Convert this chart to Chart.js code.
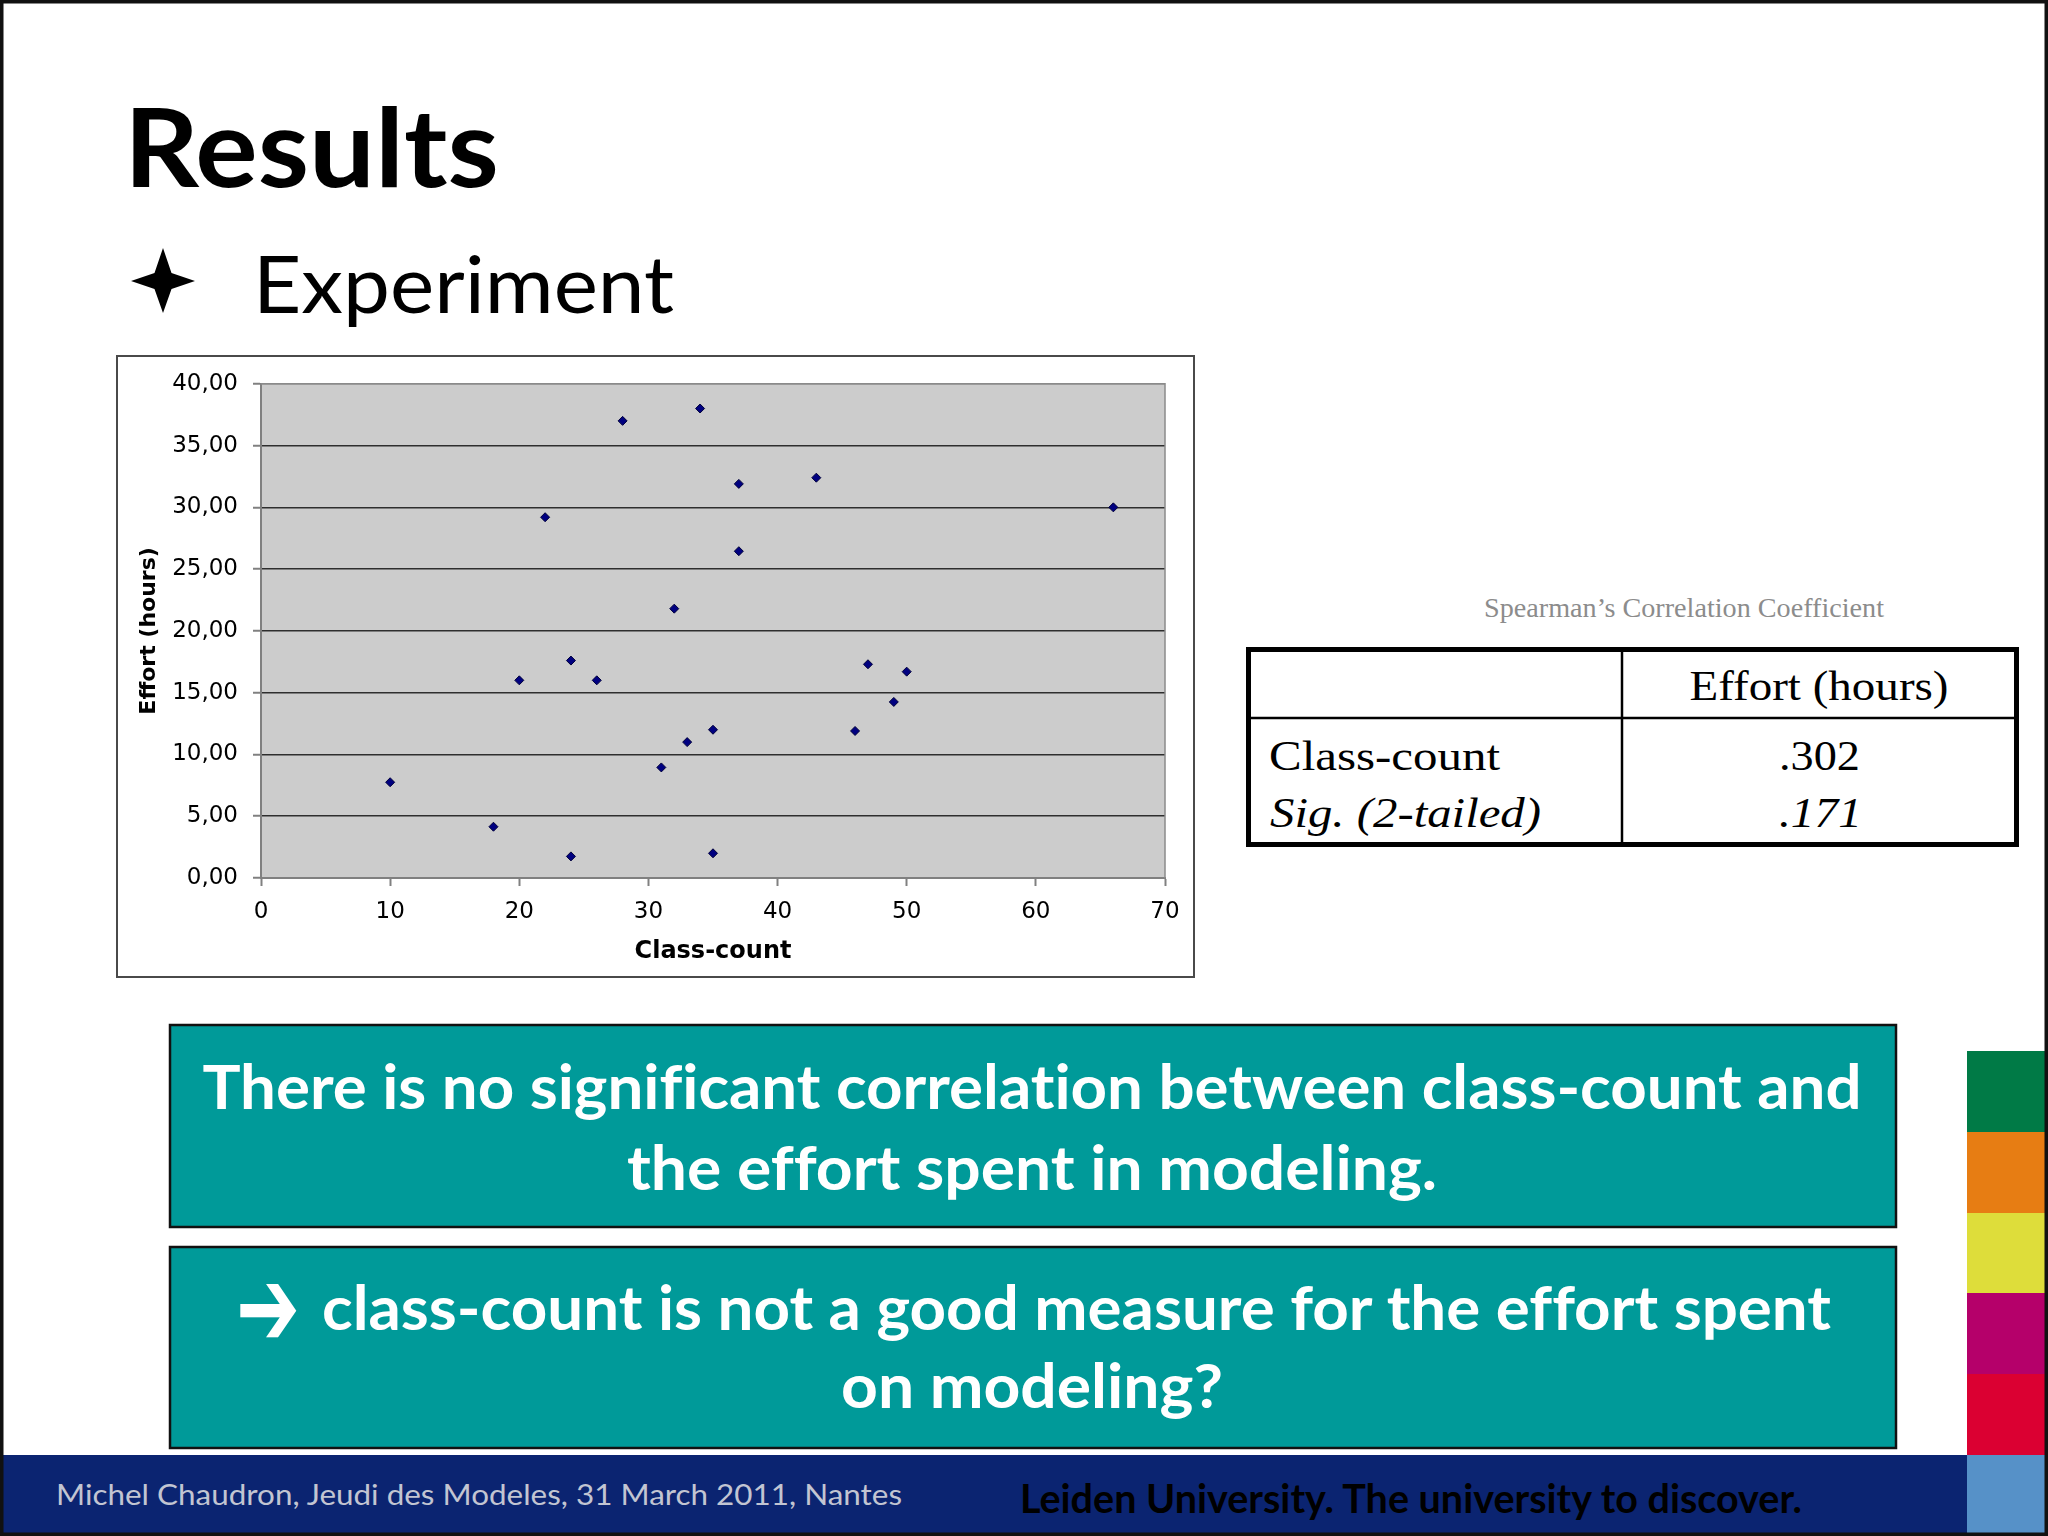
<!DOCTYPE html>
<html>
<head>
<meta charset="utf-8">
<script src="https://cdn.jsdelivr.net/npm/chart.js@4.4.1/dist/chart.umd.min.js"></script>
<style>
  html, body { margin: 0; padding: 0; background: #fff; width: 2048px; height: 1536px; overflow: hidden; }
  #slide { position: absolute; left: 0; top: 0; }
  #slide text { font-variant-ligatures: none; font-feature-settings: "liga" 0, "clig" 0; }
  #chartWrap { position: absolute; left: 116px; top: 355px; width: 1079px; height: 623px; }
  #c { display: block; }
</style>
</head>
<body>
<svg id="slide" width="2048" height="1536" viewBox="0 0 2048 1536" xmlns="http://www.w3.org/2000/svg">
  <rect x="0" y="0" width="2048" height="1536" fill="#ffffff"/>
  <!-- title -->
  <text x="124" y="187" font-family="Lato" font-weight="700" font-size="110" textLength="375" lengthAdjust="spacingAndGlyphs" fill="#000">Results</text>
  <path d="M163,248 L171.5,273 L195,281 L171.5,289 L163,313 L154.5,289 L131,281 L154.5,273 Z" fill="#000"/>
  <text x="253" y="313" font-family="Lato" font-weight="400" font-size="80" textLength="421" lengthAdjust="spacingAndGlyphs" fill="#000">Experiment</text>

  <!-- chart frame -->
  <rect x="117" y="356" width="1077" height="621" fill="#fff" stroke="#4a4a4a" stroke-width="2"/>

  <!-- table -->
  <text x="1484" y="617" font-family="Liberation Serif" font-size="27" textLength="400" lengthAdjust="spacingAndGlyphs" fill="#8c8c8c">Spearman’s Correlation Coefficient</text>
  <line x1="1246" y1="718" x2="2019" y2="718" stroke="#000" stroke-width="2.5"/>
  <line x1="1622" y1="647" x2="1622" y2="847" stroke="#000" stroke-width="2.5"/>
  <rect x="1248.5" y="649.5" width="768" height="195" fill="none" stroke="#000" stroke-width="5"/>
  <text x="1819" y="700" text-anchor="middle" font-family="Liberation Serif" font-size="42" textLength="259" lengthAdjust="spacingAndGlyphs" fill="#000">Effort (hours)</text>
  <text x="1269" y="770" font-family="Liberation Serif" font-size="42" textLength="231" lengthAdjust="spacingAndGlyphs" fill="#000">Class-count</text>
  <text x="1779" y="770" font-family="Liberation Serif" font-size="42" textLength="81" lengthAdjust="spacingAndGlyphs" fill="#000">.302</text>
  <text x="1270" y="827" font-family="Liberation Serif" font-style="italic" font-size="42" textLength="271" lengthAdjust="spacingAndGlyphs" fill="#000">Sig. (2-tailed)</text>
  <text x="1779" y="827" font-family="Liberation Serif" font-style="italic" font-size="42" textLength="83" lengthAdjust="spacingAndGlyphs" fill="#000">.171</text>

  <!-- teal boxes -->
  <rect x="170" y="1025" width="1726" height="202" fill="#009a99" stroke="#111" stroke-width="2.5"/>
  <text x="1032" y="1109" text-anchor="middle" font-family="Lato" font-weight="700" font-size="61" textLength="1659" lengthAdjust="spacingAndGlyphs" fill="#fff">There is no significant correlation between class-count and</text>
  <text x="1032" y="1190" text-anchor="middle" font-family="Lato" font-weight="700" font-size="61" textLength="810" lengthAdjust="spacingAndGlyphs" fill="#fff">the effort spent in modeling.</text>

  <rect x="170" y="1247" width="1726" height="201" fill="#009a99" stroke="#111" stroke-width="2.5"/>
  <text x="236" y="1346" font-family="DejaVu Sans" font-weight="700" font-size="112" textLength="64" lengthAdjust="spacingAndGlyphs" fill="#fff">➔</text>
  <text x="322" y="1330" font-family="Lato" font-weight="700" font-size="61" textLength="1509" lengthAdjust="spacingAndGlyphs" fill="#fff">class-count is not a good measure for the effort spent</text>
  <text x="1032" y="1408" text-anchor="middle" font-family="Lato" font-weight="700" font-size="61" textLength="382" lengthAdjust="spacingAndGlyphs" fill="#fff">on modeling?</text>

  <!-- footer -->
  <rect x="0" y="1455" width="1967" height="81" fill="#0b2471"/>
  <text x="56" y="1505" font-family="Lato" font-weight="400" font-size="29" textLength="846" lengthAdjust="spacingAndGlyphs" fill="#c2c5d2">Michel Chaudron, Jeudi des Modeles, 31 March 2011, Nantes</text>
  <text x="1020" y="1513" font-family="Lato" font-weight="700" font-size="40" textLength="782" lengthAdjust="spacingAndGlyphs" fill="#000">Leiden University. The university to discover.</text>

  <!-- colour strip -->
  <rect x="1967" y="1051" width="81" height="81" fill="#007a46"/>
  <rect x="1967" y="1132" width="81" height="81" fill="#e77d13"/>
  <rect x="1967" y="1213" width="81" height="80" fill="#dedd3a"/>
  <rect x="1967" y="1293" width="81" height="81" fill="#b5006a"/>
  <rect x="1967" y="1374" width="81" height="81" fill="#db0032"/>
  <rect x="1967" y="1455" width="81" height="81" fill="#5691c8"/>

  <!-- slide border -->
  <rect x="1.75" y="1.75" width="2044.5" height="1532.5" fill="none" stroke="#111" stroke-width="3.5"/>
</svg>

<div id="chartWrap"><canvas id="c" width="1079" height="623"></canvas></div>

<script>
// ---- data ----
const classCount  = [10, 18, 20, 22, 24, 24, 26, 28, 31, 32, 33, 34, 35, 35, 37, 37, 43, 46, 47, 49, 50, 66];
const effortHours = [7.75, 4.15, 16.0, 29.2, 17.6, 1.75, 16.0, 37.0, 8.95, 21.8, 11.0, 38.0, 12.0, 2.0, 31.9, 26.45, 32.4, 11.9, 17.3, 14.25, 16.7, 30.0];
const xAxisTitle = 'Class-count';
const yAxisTitle = 'Effort (hours)';
const xRange = [0, 70];
const yRange = [0, 40];
const xStep = 10;
const yStep = 5;

const points = classCount.map((x, i) => ({ x: x, y: effortHours[i] }));

const plotArea = {
  id: 'plotArea',
  beforeDraw(chart) {
    const { ctx, chartArea: a } = chart;
    ctx.save();
    ctx.fillStyle = '#cccccc';
    ctx.fillRect(a.left, a.top, a.right - a.left, a.bottom - a.top);
    ctx.restore();
  },
  beforeDatasetsDraw(chart) {
    const { ctx, chartArea: a } = chart;
    ctx.save();
    ctx.strokeStyle = '#8a8a8a';
    ctx.lineWidth = 1.5;
    ctx.beginPath();
    ctx.moveTo(a.left, a.top);
    ctx.lineTo(a.right, a.top);
    ctx.lineTo(a.right, a.bottom);
    ctx.stroke();
    ctx.restore();
  }
};

new Chart(document.getElementById('c'), {
  type: 'scatter',
  data: {
    datasets: [{
      data: points,
      pointStyle: 'rectRot',
      pointRadius: 4.5,
      pointBackgroundColor: '#000080',
      pointBorderColor: '#00003a',
      pointBorderWidth: 1,
      showLine: false
    }]
  },
  options: {
    responsive: false,
    animation: false,
    devicePixelRatio: 1,
    layout: { padding: { left: 0, right: 30, top: 28, bottom: 0 } },
    plugins: { legend: { display: false }, tooltip: { enabled: false } },
    scales: {
      x: {
        type: 'linear',
        min: xRange[0], max: xRange[1],
        ticks: { stepSize: xStep, color: '#000', padding: 12, font: { family: 'DejaVu Sans', size: 23 } },
        grid: { drawOnChartArea: false, drawTicks: true, tickLength: 8, tickColor: '#808080', tickWidth: 2 },
        border: { color: '#808080', width: 2 },
        title: { display: true, text: xAxisTitle, color: '#000', padding: { top: 0, bottom: 12 }, font: { family: 'DejaVu Sans', size: 24, weight: 'bold' } },
        afterFit(s) { s.height = 100; }
      },
      y: {
        type: 'linear',
        min: yRange[0], max: yRange[1],
        ticks: {
          stepSize: yStep, color: '#000', padding: 15, font: { family: 'DejaVu Sans', size: 23 },
          callback: v => v.toFixed(2).replace('.', ',')
        },
        grid: {
          color: ctx => (ctx.tick && ctx.tick.value === yRange[1]) ? '#8a8a8a' : '#2e2e2e',
          lineWidth: 1.5, tickLength: 8, tickColor: '#808080', tickWidth: 2
        },
        border: { color: '#808080', width: 2 },
        title: { display: true, text: yAxisTitle, color: '#000', padding: { top: 20, bottom: 0 }, font: { family: 'DejaVu Sans', size: 22, weight: 'bold' } },
        afterFit(s) { s.width = 145; }
      }
    }
  },
  plugins: [plotArea]
});
</script>
</body>
</html>
